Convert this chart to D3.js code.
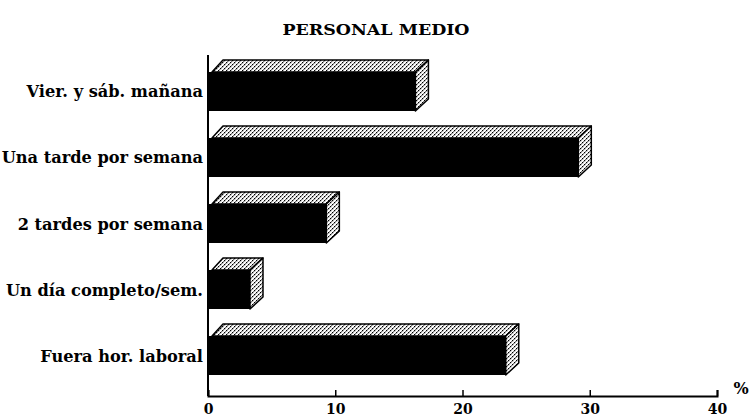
<!DOCTYPE html>
<html><head><meta charset="utf-8">
<script src="https://cdn.jsdelivr.net/npm/d3@7"></script>
<style>body{margin:0;background:#fff}svg{display:block}</style>
</head><body>
<script>
const categories = ["Vier. y sáb. mañana","Una tarde por semana","2 tardes por semana","Un día completo/sem.","Fuera hor. laboral"];
const values = [16.3, 29.1, 9.3, 3.3, 23.4];
const xTicks = [0,10,20,30,40];
const title = "PERSONAL MEDIO";

const W=756,H=416;
const svg=d3.select("body").append("svg").attr("width",W).attr("height",H);
const defs=svg.append("defs");
const pat=defs.append("pattern").attr("id","hatch").attr("patternUnits","userSpaceOnUse").attr("width",4).attr("height",4);
pat.append("rect").attr("width",4).attr("height",4).attr("fill","#fff");
pat.append("rect").attr("x",0).attr("y",0).attr("width",1.3).attr("height",1.3).attr("fill","#000");
pat.append("rect").attr("x",2).attr("y",2).attr("width",1.3).attr("height",1.3).attr("fill","#000");
pat.append("rect").attr("x",1).attr("y",3).attr("width",1).attr("height",1).attr("fill","#777");
pat.append("rect").attr("x",3).attr("y",1).attr("width",1).attr("height",1).attr("fill","#777");

const x=d3.scaleLinear().domain([0,40]).range([208,717]);
const y=d3.scaleBand().domain(categories).range([45,402]).padding(0.409);
const dx=13, dy=-12;
const font="'DejaVu Serif', serif";

svg.append("text").attr("x",376).attr("y",35).attr("text-anchor","middle")
  .attr("font-family",font).attr("font-weight","bold").attr("font-size",15)
  .attr("textLength",187).attr("lengthAdjust","spacingAndGlyphs").text(title);

const g=svg.append("g");
categories.forEach((c,i)=>{
  const x0=x(0), x1=x(values[i]), y0=y(c), y1=y0+y.bandwidth();
  g.append("path").attr("d",`M${x0+4},${y0} L${x0+4+dx-2},${y0+dy} L${x1+dx},${y0+dy} L${x1},${y0} Z`)
    .attr("fill","url(#hatch)").attr("stroke","#000").attr("stroke-width",1.5).attr("stroke-linejoin","round");
  g.append("path").attr("d",`M${x1},${y0} L${x1+dx},${y0+dy} L${x1+dx},${y1+dy} L${x1},${y1} Z`)
    .attr("fill","url(#hatch)").attr("stroke","#000").attr("stroke-width",1.5).attr("stroke-linejoin","round");
  g.append("rect").attr("x",x0).attr("y",y0).attr("width",x1-x0).attr("height",y1-y0).attr("fill","#000");
  svg.append("text").attr("x",203).attr("y",y0+y.bandwidth()/2+6).attr("text-anchor","end")
    .attr("font-family",font).attr("font-weight","bold").attr("font-size",16.2).text(c);
});

svg.append("line").attr("x1",208).attr("x2",208).attr("y1",55).attr("y2",396).attr("stroke","#000").attr("stroke-width",2);

const ax=svg.append("g").attr("transform","translate(0,396)")
  .call(d3.axisBottom(x).tickValues(xTicks).tickFormat(d3.format("d")).tickSizeInner(-6).tickSizeOuter(-6).tickPadding(8));
ax.select(".domain").attr("stroke","#000").attr("stroke-width",2);
ax.selectAll(".tick line").attr("stroke","#000").attr("stroke-width",1.5);
ax.selectAll(".tick text").attr("font-family",font).attr("font-weight","bold").attr("font-size",14).attr("fill","#000");

svg.append("text").attr("x",741).attr("y",394).attr("text-anchor","middle")
  .attr("font-family",font).attr("font-weight","bold").attr("font-size",16).text("%");
</script>
</body></html>
